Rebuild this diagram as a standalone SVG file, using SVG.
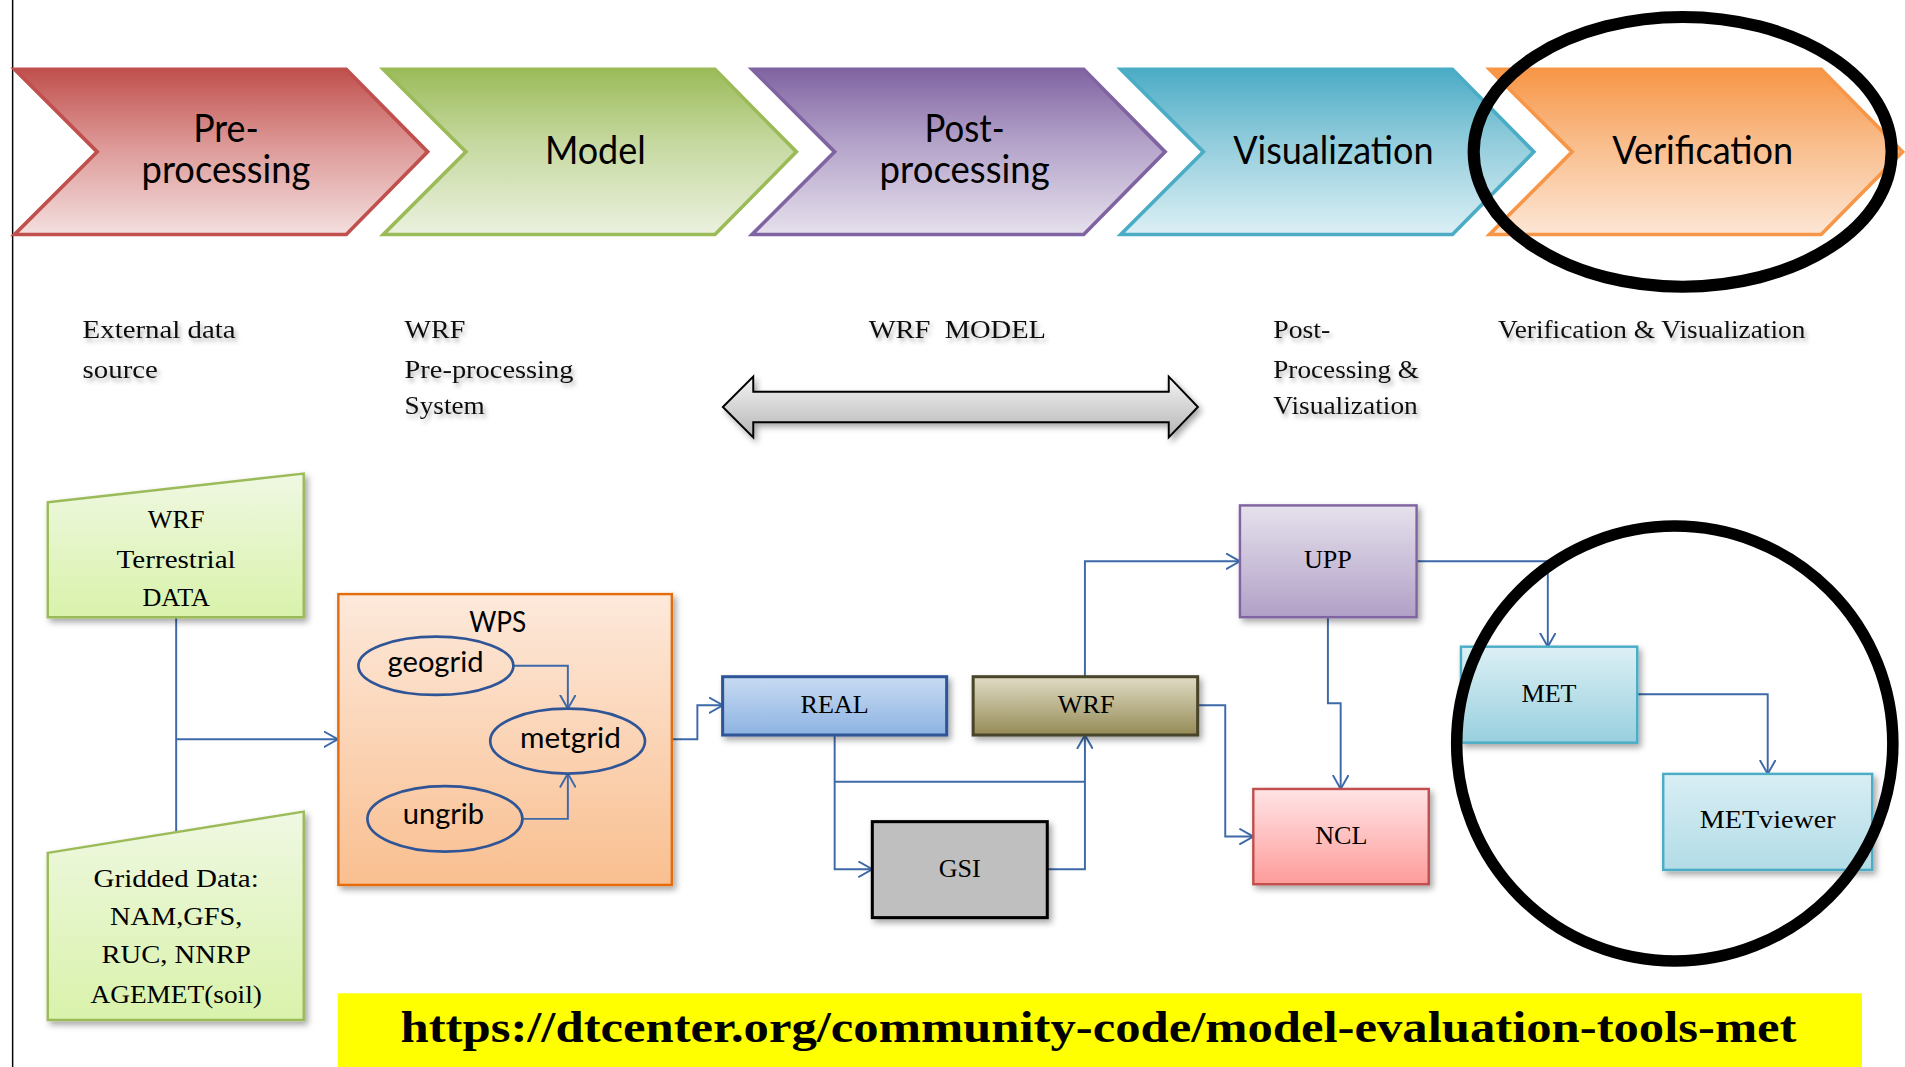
<svg xmlns="http://www.w3.org/2000/svg" width="1905" height="1067" viewBox="0 0 1905 1067">
<style>
.chev{font-family:Lato,"Open Sans","Liberation Sans",sans-serif;font-size:31px;fill:#000;text-anchor:middle}
.lbl{font-family:"Liberation Serif","DejaVu Serif",serif;font-size:21px;fill:#111}
.box{font-family:"Liberation Serif","DejaVu Serif",serif;font-size:21.5px;fill:#000;text-anchor:middle}
.sans{font-family:Lato,"Open Sans","Liberation Sans",sans-serif;font-size:23px;fill:#000;text-anchor:middle}
.url{font-family:"Liberation Serif","DejaVu Serif",serif;font-size:36px;font-weight:bold;fill:#000}
.con{fill:none;stroke:#3d69a8;stroke-width:1.6}
.ring{fill:none;stroke:#000}
</style>
<defs>
<filter id="sh" x="-10%" y="-10%" width="130%" height="140%">
<feDropShadow dx="2.5" dy="3" stdDeviation="2.5" flood-color="#000" flood-opacity="0.35"/>
</filter>
<filter id="tsh" x="-5%" y="-20%" width="115%" height="160%">
<feDropShadow dx="2" dy="3" stdDeviation="1.6" flood-color="#000" flood-opacity="0.3"/>
</filter>
<marker id="ah" viewBox="0 0 12 14" refX="11.5" refY="7" markerWidth="12" markerHeight="14" markerUnits="userSpaceOnUse" orient="auto">
<path d="M0,0.5 L11.5,7 L0,13.5" fill="none" stroke="#3d69a8" stroke-width="1.6"/>
</marker>
<linearGradient id="gRed" x1="0" y1="0" x2="0" y2="1"><stop offset="0" stop-color="#c0504d"/><stop offset="0.45" stop-color="#dc9795"/><stop offset="1" stop-color="#f3dfde"/></linearGradient>
<linearGradient id="gGreen" x1="0" y1="0" x2="0" y2="1"><stop offset="0" stop-color="#9bbb59"/><stop offset="0.45" stop-color="#c6d9a0"/><stop offset="1" stop-color="#ebf1df"/></linearGradient>
<linearGradient id="gPurple" x1="0" y1="0" x2="0" y2="1"><stop offset="0" stop-color="#8064a2"/><stop offset="0.45" stop-color="#b4a3c9"/><stop offset="1" stop-color="#e6e0ed"/></linearGradient>
<linearGradient id="gBlue" x1="0" y1="0" x2="0" y2="1"><stop offset="0" stop-color="#4bacc6"/><stop offset="0.45" stop-color="#93cddc"/><stop offset="1" stop-color="#dcf0f5"/></linearGradient>
<linearGradient id="gOrange" x1="0" y1="0" x2="0" y2="1"><stop offset="0" stop-color="#f79646"/><stop offset="0.45" stop-color="#f9bd8c"/><stop offset="1" stop-color="#fde6d4"/></linearGradient>
<linearGradient id="gArrow" x1="0" y1="0" x2="0" y2="1"><stop offset="0" stop-color="#f4f4f4"/><stop offset="1" stop-color="#b5b5b5"/></linearGradient>
<linearGradient id="gLight" x1="0" y1="0" x2="0" y2="1"><stop offset="0" stop-color="#eff8e2"/><stop offset="1" stop-color="#d9f2ab"/></linearGradient>
<linearGradient id="gWps" x1="0" y1="0" x2="0" y2="1"><stop offset="0" stop-color="#fde9db"/><stop offset="1" stop-color="#f9bf90"/></linearGradient>
<linearGradient id="gReal" x1="0" y1="0" x2="0" y2="1"><stop offset="0" stop-color="#c8dbf2"/><stop offset="1" stop-color="#8db3e2"/></linearGradient>
<linearGradient id="gWrf" x1="0" y1="0" x2="0" y2="1"><stop offset="0" stop-color="#e0dcc6"/><stop offset="1" stop-color="#958b56"/></linearGradient>
<linearGradient id="gUpp" x1="0" y1="0" x2="0" y2="1"><stop offset="0" stop-color="#e6e1ed"/><stop offset="1" stop-color="#b1a0c6"/></linearGradient>
<linearGradient id="gNcl" x1="0" y1="0" x2="0" y2="1"><stop offset="0" stop-color="#ffe4e6"/><stop offset="1" stop-color="#fd9c9a"/></linearGradient>
<linearGradient id="gMet" x1="0" y1="0" x2="0" y2="1"><stop offset="0" stop-color="#dcf0f5"/><stop offset="1" stop-color="#98cfde"/></linearGradient>
<linearGradient id="gMetv" x1="0" y1="0" x2="0" y2="1"><stop offset="0" stop-color="#d9eef4"/><stop offset="1" stop-color="#b2dce7"/></linearGradient>
</defs>
<rect x="0" y="0" width="1905" height="1067" fill="#fff"/>
<g transform="scale(1.21492)">
<line x1="10.4" y1="0" x2="10.4" y2="880" stroke="#000" stroke-width="1.2"/>

<g id="chevron-preprocessing">
<path d="M12,57 H285 L352,125 L285,193 H12 L80,125 Z" fill="url(#gRed)" stroke="#c0504d" stroke-width="3" stroke-linejoin="miter"/>
<text class="chev" x="186" y="117" textLength="54" lengthAdjust="spacingAndGlyphs">Pre-</text>
<text class="chev" x="186" y="151" textLength="139" lengthAdjust="spacingAndGlyphs">processing</text>
</g>
<g id="chevron-model">
<path d="M315.5,57 H588.5 L655.5,125 L588.5,193 H315.5 L383.5,125 Z" fill="url(#gGreen)" stroke="#9bbb59" stroke-width="3"/>
<text class="chev" x="490" y="135" textLength="83" lengthAdjust="spacingAndGlyphs">Model</text>
</g>
<g id="chevron-postprocessing">
<path d="M619,57 H892 L959,125 L892,193 H619 L687,125 Z" fill="url(#gPurple)" stroke="#8064a2" stroke-width="3"/>
<text class="chev" x="794" y="117" textLength="66" lengthAdjust="spacingAndGlyphs">Post-</text>
<text class="chev" x="794" y="151" textLength="140" lengthAdjust="spacingAndGlyphs">processing</text>
</g>
<g id="chevron-visualization">
<path d="M922.5,57 H1195.5 L1262.5,125 L1195.5,193 H922.5 L990.5,125 Z" fill="url(#gBlue)" stroke="#4bacc6" stroke-width="3"/>
<text class="chev" x="1097.5" y="135" textLength="165" lengthAdjust="spacingAndGlyphs">Visualization</text>
</g>
<g id="chevron-verification">
<path d="M1226,57 H1499 L1566,125 L1499,193 H1226 L1294,125 Z" fill="url(#gOrange)" stroke="#f79646" stroke-width="3"/>
<text class="chev" x="1401.5" y="135" textLength="149" lengthAdjust="spacingAndGlyphs">Verification</text>
</g>

<g id="labels" filter="url(#tsh)">
<text class="lbl" x="68" y="278" textLength="126" lengthAdjust="spacingAndGlyphs">External data</text>
<text class="lbl" x="68" y="311" textLength="62" lengthAdjust="spacingAndGlyphs">source</text>
<text class="lbl" x="333" y="278" textLength="50" lengthAdjust="spacingAndGlyphs">WRF</text>
<text class="lbl" x="333" y="311" textLength="139" lengthAdjust="spacingAndGlyphs">Pre-processing</text>
<text class="lbl" x="333" y="341" textLength="66" lengthAdjust="spacingAndGlyphs">System</text>
<text class="lbl" x="715" y="278" textLength="146" lengthAdjust="spacingAndGlyphs" xml:space="preserve" style="white-space:pre">WRF  MODEL</text>
<text class="lbl" x="1048" y="278" textLength="47" lengthAdjust="spacingAndGlyphs">Post-</text>
<text class="lbl" x="1048" y="311" textLength="120" lengthAdjust="spacingAndGlyphs">Processing &amp;</text>
<text class="lbl" x="1048" y="341" textLength="119" lengthAdjust="spacingAndGlyphs">Visualization</text>
<text class="lbl" x="1233" y="278" textLength="253" lengthAdjust="spacingAndGlyphs">Verification &amp; Visualization</text>
</g>

<g id="wrf-model-span">
<path d="M595,335 L620,310 V322.5 H962 V310 L986,335 L962,360 V347.5 H620 V360 Z" fill="url(#gArrow)" stroke="#000" stroke-width="1.6" stroke-linejoin="miter" filter="url(#sh)"/>
</g>

<g id="connectors">
<path class="con" d="M145,508 V685"/>
<path class="con" d="M145,608.5 H278" marker-end="url(#ah)"/>
<path class="con" d="M553,608.5 H574 V580.5 H595" marker-end="url(#ah)"/>
<path class="con" d="M687,605 V715.5 H718" marker-end="url(#ah)"/>
<path class="con" d="M687,643.5 H893"/>
<path class="con" d="M862,715.5 H893 V605" marker-end="url(#ah)"/>
<path class="con" d="M893,557 V462 H1020.6" marker-end="url(#ah)"/>
<path class="con" d="M986,580.5 H1008.5 V688.6 H1031.6" marker-end="url(#ah)"/>
<path class="con" d="M1093,508 V578.8 H1103.5 V649.4" marker-end="url(#ah)"/>
<path class="con" d="M1166,462 H1274 V532.3" marker-end="url(#ah)"/>
<path class="con" d="M1347.6,571.5 H1455 V637" marker-end="url(#ah)"/>
</g>

<g id="terrestrial-data">
<path d="M39.3,413.4 L250,389.8 V508 H39.3 Z" fill="url(#gLight)" stroke="#9bbb59" stroke-width="2" filter="url(#sh)"/>
<text class="box" x="145" y="435">WRF</text>
<text class="box" x="145" y="467.5" textLength="98" lengthAdjust="spacingAndGlyphs">Terrestrial</text>
<text class="box" x="145" y="499">DATA</text>
</g>

<g id="gridded-data">
<path d="M39.3,702 L250,668 V839.5 H39.3 Z" fill="url(#gLight)" stroke="#9bbb59" stroke-width="2" filter="url(#sh)"/>
<text class="box" x="145" y="730" textLength="136" lengthAdjust="spacingAndGlyphs">Gridded Data:</text>
<text class="box" x="145" y="761.6" textLength="109" lengthAdjust="spacingAndGlyphs">NAM,GFS,</text>
<text class="box" x="145" y="793" textLength="123" lengthAdjust="spacingAndGlyphs">RUC, NNRP</text>
<text class="box" x="145" y="825.5" textLength="141" lengthAdjust="spacingAndGlyphs">AGEMET(soil)</text>
</g>

<g id="wps">
<rect x="278.5" y="489" width="274.5" height="239.4" fill="url(#gWps)" stroke="#e46c0a" stroke-width="2" filter="url(#sh)"/>
<text class="sans" x="409.7" y="520" textLength="47" lengthAdjust="spacingAndGlyphs">WPS</text>
<path class="con" d="M422.6,548 H467.4 V583.3" marker-end="url(#ah)"/>
<path class="con" d="M430,674 H467.4 V636.7" marker-end="url(#ah)"/>
</g>
<g id="geogrid">
<ellipse cx="358.8" cy="548" rx="63.8" ry="24" fill="none" stroke="#2f5597" stroke-width="2.2"/>
<text class="sans" x="358.5" y="553" textLength="79" lengthAdjust="spacingAndGlyphs">geogrid</text>
</g>
<g id="metgrid">
<ellipse cx="467.2" cy="610" rx="63.7" ry="26.7" fill="none" stroke="#2f5597" stroke-width="2.2"/>
<text class="sans" x="469.5" y="616" textLength="83" lengthAdjust="spacingAndGlyphs">metgrid</text>
</g>
<g id="ungrib">
<ellipse cx="366.2" cy="674" rx="63.8" ry="27" fill="none" stroke="#2f5597" stroke-width="2.2"/>
<text class="sans" x="365" y="678.5" textLength="67" lengthAdjust="spacingAndGlyphs">ungrib</text>
</g>

<g id="real">
<rect x="594.8" y="557" width="184.4" height="48" fill="url(#gReal)" stroke="#2f5597" stroke-width="2.5" filter="url(#sh)"/>
<text class="box" x="687" y="586.5">REAL</text>
</g>
<g id="wrf">
<rect x="801" y="557" width="184.8" height="48" fill="url(#gWrf)" stroke="#4a452a" stroke-width="2.5" filter="url(#sh)"/>
<text class="box" x="894" y="586.5">WRF</text>
</g>
<g id="gsi">
<rect x="718" y="676.3" width="144" height="79" fill="#bfbfbf" stroke="#000" stroke-width="2.5" filter="url(#sh)"/>
<text class="box" x="790" y="721.5">GSI</text>
</g>
<g id="upp">
<rect x="1020.6" y="416" width="145.4" height="92" fill="url(#gUpp)" stroke="#8064a2" stroke-width="2" filter="url(#sh)"/>
<text class="box" x="1093" y="467.6">UPP</text>
</g>
<g id="ncl">
<rect x="1031.6" y="649.4" width="144.4" height="78.4" fill="url(#gNcl)" stroke="#c0504d" stroke-width="2" filter="url(#sh)"/>
<text class="box" x="1104" y="694.8">NCL</text>
</g>
<g id="met">
<rect x="1202.5" y="532.3" width="145.1" height="79" fill="url(#gMet)" stroke="#4bacc6" stroke-width="2" filter="url(#sh)"/>
<text class="box" x="1275" y="577.5">MET</text>
</g>
<g id="metviewer">
<rect x="1369" y="637" width="172" height="79" fill="url(#gMetv)" stroke="#4bacc6" stroke-width="2" filter="url(#sh)"/>
<text class="box" x="1455" y="681.8" textLength="112" lengthAdjust="spacingAndGlyphs">METviewer</text>
</g>

<g id="url-banner">
<rect x="278" y="817.6" width="1254.6" height="62" fill="#ffff00"/>
<text class="url" x="329.7" y="858" textLength="1149" lengthAdjust="spacingAndGlyphs">https://dtcenter.org/community-code/model-evaluation-tools-met</text>
</g>

<g id="highlight-rings">
<ellipse class="ring" cx="1385" cy="125" rx="172" ry="111" stroke-width="10"/>
<ellipse class="ring" cx="1378.5" cy="612" rx="179.5" ry="179" stroke-width="9.5"/>
</g>
</g>
</svg>
